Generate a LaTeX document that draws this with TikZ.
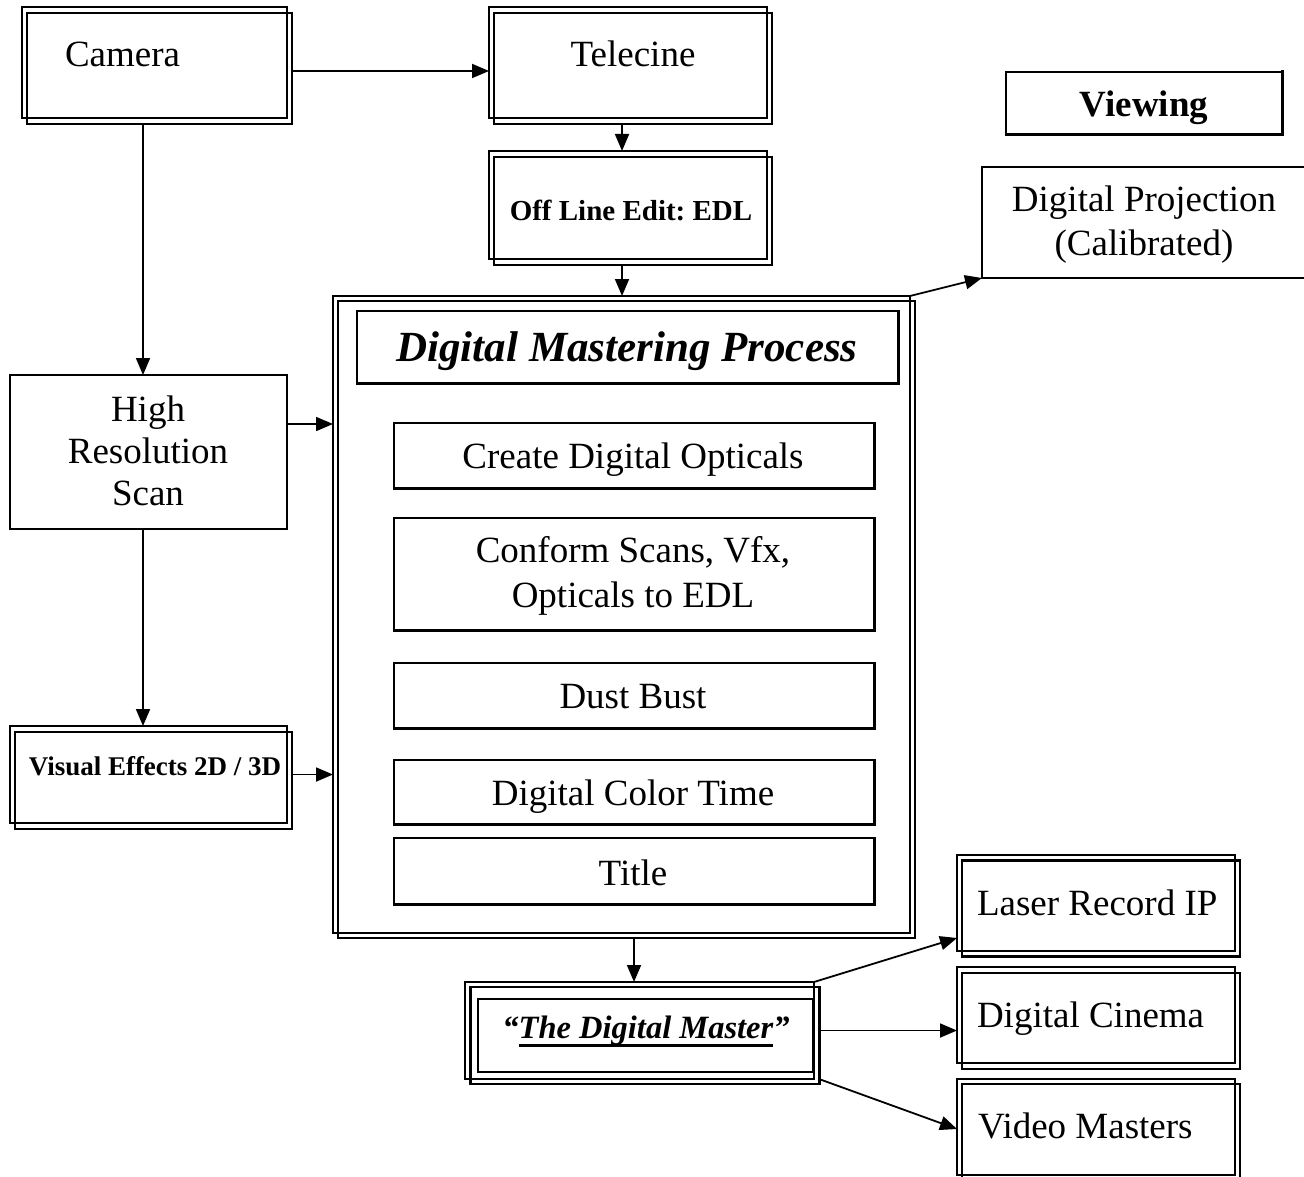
\documentclass[tikz,border=0pt]{standalone}
\usepackage{fontspec}
\setmainfont{Liberation Serif}
\usetikzlibrary{arrows.meta,calc}
\frenchspacing
\newcommand\fbig{\fontsize{37}{42}\selectfont}
\newcommand\fmid{\fontsize{29}{34}\selectfont}
\newcommand\fvfx{\fontsize{27}{32}\selectfont}
\newcommand\fhead{\fontsize{43}{50}\selectfont}
\newcommand\fdm{\fontsize{32.5}{38}\selectfont}
\newcommand\myul[1]{\setbox0\hbox{#1}\rlap{\rule[-8.5pt]{\wd0}{3pt}}\box0}
\newcommand\thickse[1]{\draw[line width=3pt,line cap=rect] (#1.north east) -- (#1.south east) -- (#1.south west);}
\newcommand\dshift[2]{\draw[line width=2.2pt] ([shift={#2}]#1.north west) rectangle ([shift={#2}]#1.south east);}
\begin{document}
\begin{tikzpicture}[x=1pt,y=-1pt,
  bx/.style={draw, line width=#1, inner sep=0pt, outer sep=0pt},
  bx/.default=2.2pt,
  txt/.style={inner sep=0pt, outer sep=0pt, font=\fbig, anchor=base},
  txtw/.style={inner sep=0pt, outer sep=0pt, font=\fbig, anchor=base west},
  arr/.style={line width=1.8pt, -{Triangle[length=17pt,width=14pt]}}]
\useasboundingbox (0,0) rectangle (1304,1177);
\clip (0,0) rectangle (1304,1177);

% ---- double boxes ----
\node[bx, minimum width=265, minimum height=111] (cam) at (154.5,62.5) {};
\dshift{cam}{(5,6)}
\node[txtw] (camT) at (65,67) {Camera};

\node[bx, minimum width=278, minimum height=111] (tel) at (628,62.5) {};
\dshift{tel}{(5,6)}
\node[txt] (telT) at (633,67) {Telecine};

\node[bx, minimum width=278, minimum height=108] (off) at (628,205) {};
\dshift{off}{(5,6)}
\node[txt, font=\fmid\bfseries] (offT) at (631,221) {Off Line Edit: EDL};

\node[bx, minimum width=277, minimum height=97] (vfx) at (148.5,774.5) {};
\dshift{vfx}{(5,6)}
\node[txt, font=\fvfx\bfseries] (vfxT) at (155,775) {Visual Effects 2D / 3D};

% ---- single boxes, top right ----
\node[bx=1.5pt, minimum width=276, minimum height=63] (view) at (1144,103.5) {};
\thickse{view}
\node[txt, font=\fbig\bfseries] (viewT) at (1144,117) {Viewing};

\node[bx=1.8pt, minimum width=340, minimum height=111] (proj) at (1152,222.5) {};
\node[txt] (proj1) at (1144,212) {Digital Projection};
\node[txt] (proj2) at (1144,255) {(Calibrated)};

% ---- high resolution scan ----
\node[bx=1.5pt, minimum width=277, minimum height=154] (hr) at (148.5,452) {};
\node[txt] (hr1) at (148,421) {High};
\node[txt] (hr2) at (148,463) {Resolution};
\node[txt] (hr3) at (148,505) {Scan};

% ---- digital mastering process ----
\node[bx=1.8pt, minimum width=577, minimum height=637] (dmp) at (621.5,614.5) {};
\draw[line width=1.8pt] ([shift={(5,5)}]dmp.north west) rectangle ([shift={(5,5)}]dmp.south east);
\node[bx=1.5pt, minimum width=541, minimum height=72] (ttl) at (627.5,347) {};
\thickse{ttl}
\node[txt, font=\fhead\bfseries\itshape] (ttlT) at (627,361) {Digital Mastering Process};

\node[bx=1.5pt, minimum width=480, minimum height=65] (cre) at (634,455.5) {};
\thickse{cre}
\node[txt] (creT) at (633,468) {Create Digital Opticals};

\node[bx=1.5pt, minimum width=480, minimum height=112] (con) at (634,574) {};
\thickse{con}
\node[txt] (con1) at (633,562) {Conform Scans, Vfx,};
\node[txt] (con2) at (633,607) {Opticals to EDL};

\node[bx=1.5pt, minimum width=480, minimum height=65] (dust) at (634,695.5) {};
\thickse{dust}
\node[txt] (dustT) at (633,708) {Dust Bust};

\node[bx=1.5pt, minimum width=480, minimum height=64] (col) at (634,792) {};
\thickse{col}
\node[txt] (colT) at (633,805) {Digital Color Time};

\node[bx=1.5pt, minimum width=480, minimum height=66] (tit) at (634,871) {};
\thickse{tit}
\node[txt] (titT) at (633,885) {Title};

% ---- the digital master ----
\node[bx, minimum width=349, minimum height=97] (dm) at (639.5,1030.5) {};
\dshift{dm}{(5.5,5)}
\node[bx, minimum width=335, minimum height=73] (dmi) at (645.5,1035.5) {};
\node[txt, font=\fdm\bfseries\itshape] (dmT) at (646,1038) {\textquotedblleft\myul{The Digital Master}\textquotedblright};

% ---- outputs ----
\node[bx, minimum width=278, minimum height=96] (las) at (1096,903) {};
\dshift{las}{(5,5.5)}
\node[txtw] (lasT) at (977,915) {Laser Record IP};

\node[bx, minimum width=278, minimum height=96] (cin) at (1096,1015) {};
\dshift{cin}{(5,6)}
\node[txtw] (cinT) at (977,1027) {Digital Cinema};

\node[bx, minimum width=278, minimum height=96] (vid) at (1096,1127) {};
\dshift{vid}{(5,5)}
\node[txtw] (vidT) at (978,1138) {Video Masters};

% ---- connectors ----
\draw[arr] ([xshift=5pt,yshift=-8.5pt]cam.east) -- ([yshift=-8.5pt]tel.west);
\draw[arr] ([xshift=-11.5pt,yshift=-6pt]cam.south) -- ([xshift=-5.5pt]hr.north);
\draw[arr] ([xshift=-5.5pt]hr.south) -- ([xshift=-5.5pt]vfx.north);
\coordinate (p1) at ([yshift=28pt]hr.east);
\draw[arr] (p1) -- (p1 -| dmp.west);
\coordinate (p2) at ([xshift=5pt]vfx.east);
\draw[arr] (p2) -- (p2 -| dmp.west);
\draw[arr] ([xshift=-6pt,yshift=-6pt]tel.south) -- ([xshift=-6pt]off.north);
\coordinate (p3) at ([xshift=-6pt,yshift=-6pt]off.south);
\draw[arr] (p3) -- (p3 |- dmp.north);
\coordinate (p4) at ([xshift=12.5pt,yshift=-5pt]dmp.south);
\draw[arr] (p4) -- (p4 |- dm.north);
\draw[arr] (dmp.north east) -- (proj.south west);
\draw[arr] (dm.north east) -- ([yshift=-35pt]las.west);
\coordinate (p5) at ([xshift=5.5pt]dm.east);
\draw[arr] (p5) -- (p5 -| cin.west);
\draw[arr] ([xshift=5pt]dm.south east) -- ([yshift=-2pt]vid.west);
\end{tikzpicture}
\end{document}
